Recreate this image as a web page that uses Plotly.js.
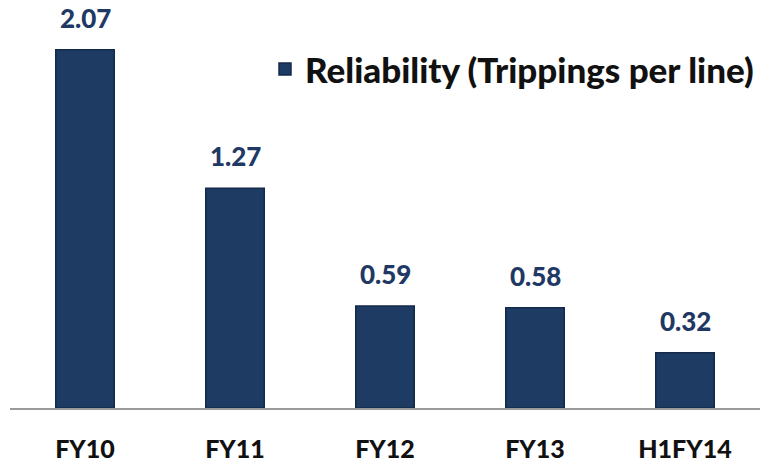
<!DOCTYPE html>
<html>
<head>
<meta charset="utf-8">
<script src="https://cdn.plot.ly/plotly-3.0.1.min.js"></script>
<style>html,body{margin:0;padding:0;background:#fff;}#chart{width:763px;height:463px;}</style>
</head>
<body>
<div id="chart"></div>
<script>
const categories = ["FY10", "FY11", "FY12", "FY13", "H1FY14"];
const values = [2.07, 1.27, 0.59, 0.58, 0.32];
const valueLabels = ["2.07", "1.27", "0.59", "0.58", "0.32"];
const seriesName = "Reliability (Trippings per line)";

const FONT = "Lato, 'Open Sans', sans-serif";

const trace = {
  type: "bar",
  x: categories,
  y: values,
  name: seriesName,
  width: 0.39,
  marker: { color: "#1e3b63", line: { color: "#132a4a", width: 1.5 } },
  hoverinfo: "skip",
  showlegend: true
};

const annotations = categories.map((c, i) => ({
  x: c, y: values[i], xref: "x", yref: "y",
  text: valueLabels[i],
  showarrow: false, yanchor: "bottom", yshift: 14,
  font: { family: FONT, size: 26, color: "#1f3864", weight: 900 }
}));

const layout = {
  width: 763, height: 463,
  margin: { l: 10, r: 3, t: 0, b: 55 },
  paper_bgcolor: "#ffffff", plot_bgcolor: "#ffffff",
  bargap: 0.61,
  xaxis: {
    type: "category", range: [-0.5, 4.5],
    showline: true, linecolor: "#9a9a9a", linewidth: 2,
    ticks: "", showgrid: false, zeroline: false,
    tickfont: { family: FONT, size: 25, color: "#111111", weight: 900 },
    ticklabelstandoff: 18
  },
  yaxis: {
    range: [0, 2.358], visible: false, showgrid: false, zeroline: false
  },
  showlegend: true,
  legend: {
    x: 0.34, y: 0.83, xanchor: "left", yanchor: "middle",
    bgcolor: "rgba(0,0,0,0)",
    font: { family: FONT, size: 35, color: "#111111", weight: 900 },
    itemwidth: 30
  },
  annotations: annotations
};

Plotly.newPlot("chart", [trace], layout, { displayModeBar: false, staticPlot: true });
</script>
</body>
</html>
